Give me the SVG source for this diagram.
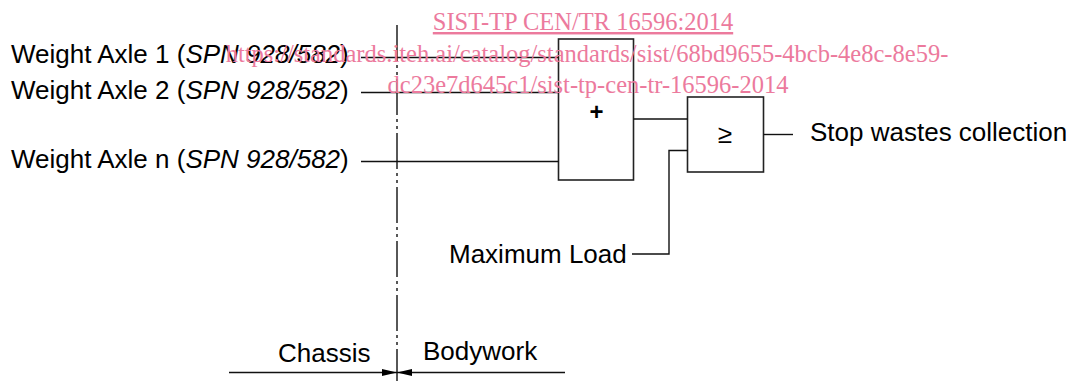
<svg xmlns="http://www.w3.org/2000/svg" width="1072" height="381" viewBox="0 0 1072 381">
<style>
.t{font-family:"Liberation Sans",Arial,sans-serif;font-size:26px;fill:#000}
.i{font-style:italic}
.ln{stroke:#111;stroke-width:1.4;fill:none}
.box{stroke:#222;stroke-width:1.6;fill:none}
.wm{font-family:"Liberation Serif","Times New Roman",serif;font-size:24.5px;fill:#ec7a9d;text-anchor:middle}
</style>
<defs>
<marker id="ah" viewBox="0 0 15 7" refX="15" refY="3.5" markerWidth="15" markerHeight="7" markerUnits="userSpaceOnUse" orient="auto">
<path d="M0,0 L15,3.5 L0,7 Z" fill="#000"/>
</marker>
</defs>
<rect width="1072" height="381" fill="#fff"/>
<g id="labels">
<text class="t" x="11" y="63">Weight Axle 1 (<tspan class="i">SPN 928/582</tspan>)</text>
<text class="t" x="11" y="99">Weight Axle 2 (<tspan class="i">SPN 928/582</tspan>)</text>
<text class="t" x="11" y="168">Weight Axle n (<tspan class="i">SPN 928/582</tspan>)</text>
<text class="t" x="449" y="263">Maximum Load</text>
<text class="t" x="810" y="141">Stop wastes collection</text>
<text class="t" x="278" y="362">Chassis</text>
<text class="t" x="423" y="360">Bodywork</text>
</g>
<g id="sum">
<rect class="box" x="558.5" y="39" width="75" height="141"/>
<text class="t" x="596.5" y="120" text-anchor="middle" font-weight="bold" style="font-size:24px">+</text>
</g>
<g id="compare">
<rect class="box" x="687.5" y="97" width="76" height="75"/>
<text class="t" x="725" y="143" text-anchor="middle">≥</text>
</g>
<g id="connectors">
<line class="ln" x1="361" y1="57.5" x2="558.5" y2="57.5"/>
<line class="ln" x1="361" y1="92.5" x2="558.5" y2="92.5"/>
<line class="ln" x1="361" y1="161.5" x2="558.5" y2="161.5"/>
<line class="ln" x1="633.5" y1="119" x2="687.5" y2="119"/>
<polyline class="ln" points="632,254 669,254 669,150.5 687.5,150.5"/>
<line class="ln" x1="763.5" y1="134.5" x2="793" y2="134.5"/>
<line class="ln" x1="397" y1="25" x2="397" y2="381" stroke-dasharray="36 4 3 4 3 4"/>
<line class="ln" x1="229" y1="372.5" x2="397" y2="372.5" marker-end="url(#ah)"/>
<line class="ln" x1="565" y1="372.5" x2="397" y2="372.5" marker-end="url(#ah)"/>
</g>
<g id="watermark">
<text class="wm" x="583" y="30" text-decoration="underline">SIST-TP CEN/TR 16596:2014</text>
<text class="wm" x="587" y="62">https://standards.iteh.ai/catalog/standards/sist/68bd9655-4bcb-4e8c-8e59-</text>
<text class="wm" x="588" y="93">dc23e7d645c1/sist-tp-cen-tr-16596-2014</text>
</g>
</svg>
